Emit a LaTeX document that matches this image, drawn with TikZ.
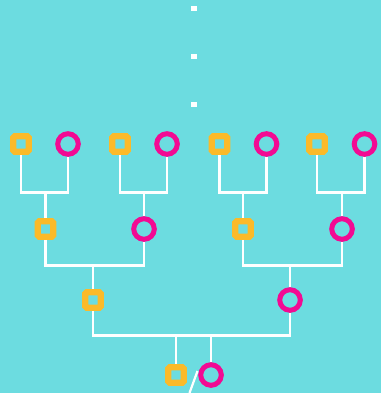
\documentclass[tikz,border=0pt]{standalone}
\definecolor{sky}{RGB}{108,220,224}
\definecolor{sun}{RGB}{251,186,41}
\definecolor{rose}{RGB}{242,10,147}
\begin{document}
\begin{tikzpicture}[x=1pt, y=-1pt,
	male/.style = {draw=sun, line width=6.3pt, rounded corners=1.5pt, minimum size=15.4pt, inner sep=0pt},
	female/.style = {circle, draw=rose, line width=5pt, minimum size=20.6pt, inner sep=0pt},
	link/.style = {white, line width=2.2pt},
	dotmark/.style = {fill=white, minimum width=6pt, minimum height=5pt, inner sep=0pt}]
	\fill [sky] (0,0) rectangle (381,393);
	\useasboundingbox (0,0) rectangle (381,393);
	\node [dotmark] (d1) at (193.5,9) {};
	\node [dotmark] (d2) at (193.5,56.5) {};
	\node [dotmark] (d3) at (193.5,104.5) {};
	\node [male] (s1) at (21,144) {};
	\node [female] (c1) at (68,144) {};
	\node [male] (s2) at (120,144) {};
	\node [female] (c2) at (167,144) {};
	\node [male] (s3) at (219.5,144) {};
	\node [female] (c3) at (266.5,144) {};
	\node [male] (s4) at (317,144) {};
	\node [female] (c4) at (364.5,144) {};
	\node [male] (p1) at (45.5,229) {};
	\node [female] (p2) at (144,229) {};
	\node [male] (p3) at (243,229) {};
	\node [female] (p4) at (342,229) {};
	\node [male] (g1) at (93,300) {};
	\node [female] (g2) at (290,300) {};
	\node [male] (me) at (176,375) {};
	\node [female] (her) at (211,375) {};
	\coordinate (j1) at (45.5,192.5);
	\coordinate (j2) at (144,192.5);
	\coordinate (j3) at (243,192.5);
	\coordinate (j4) at (342,192.5);
	\coordinate (k1) at (93,265.5);
	\coordinate (k2) at (290,265.5);
	\coordinate (b1) at (93,335.5);
	\coordinate (b2) at (290,335.5);
	\draw [link] (s1) |- (j1) -| (c1);
	\draw [link] (s2) |- (j2) -| (c2);
	\draw [link] (s3) |- (j3) -| (c3);
	\draw [link] (s4) |- (j4) -| (c4);
	\draw [link] (j1) -- (p1);
	\draw [link] (j2) -- (p2);
	\draw [link] (j3) -- (p3);
	\draw [link] (j4) -- (p4);
	\draw [link] (p1) |- (k1) -| (p2);
	\draw [link] (p3) |- (k2) -| (p4);
	\draw [link] (k1) -- (g1);
	\draw [link] (k2) -- (g2);
	\draw [link] (g1) -- (b1) -- (b2) -- (g2);
	\draw [link] (b1 -| me) -- (me);
	\draw [link] (b1 -| her) -- (her);
	\draw [link] (189.5,393) -- (197.5,371);
\end{tikzpicture}
\end{document}
